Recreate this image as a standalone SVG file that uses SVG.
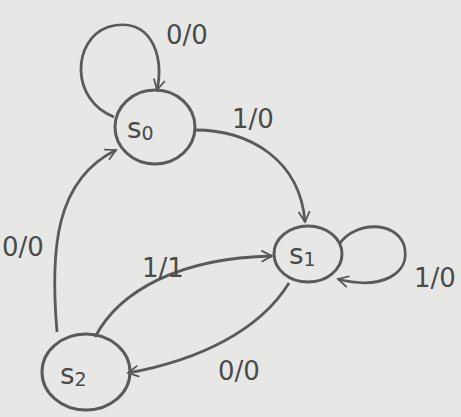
<svg xmlns="http://www.w3.org/2000/svg" width="461" height="417" viewBox="0 0 461 417">
<defs>
<marker id="ah" viewBox="0 0 20 20" refX="17" refY="10" markerWidth="14" markerHeight="14" markerUnits="userSpaceOnUse" orient="auto">
<path d="M2,2 L17,10 L2,18" fill="none" stroke="#555" stroke-width="2.5"/>
</marker>
</defs>
<style>
.st{fill:none;stroke:#5a5a5a;stroke-width:3}
.ed{fill:none;stroke:#5a5a5a;stroke-width:2.8}
.lb{font-family:"DejaVu Sans",sans-serif;font-size:26px;fill:#4a4a4a}
.nm{font-family:"DejaVu Sans",sans-serif;font-size:28px;fill:#4a4a4a}
.sb{font-size:19px}
</style>
<rect width="461" height="417" fill="#e7e7e5"/>
<g id="connectors">
<path class="ed" d="M114,117 C70,100 72,40 108,27 C150,15 165,55 157,90" marker-end="url(#ah)"/>
<path class="ed" d="M195,130 C250,130 300,160 305,222" marker-end="url(#ah)"/>
<path class="ed" d="M340,243 C355,222 395,220 404,245 C412,275 380,290 338,279" marker-end="url(#ah)"/>
<path class="ed" d="M57,332 C50,250 55,180 116,150" marker-end="url(#ah)"/>
<path class="ed" d="M95,337 C120,290 180,258 272,256" marker-end="url(#ah)"/>
<path class="ed" d="M289,283 C260,330 200,360 128,373" marker-end="url(#ah)"/>
</g>
<g id="S0"><ellipse class="st" cx="155" cy="127" rx="40" ry="37"/><text class="nm" x="127" y="138">s<tspan class="sb" dy="2">0</tspan></text></g>
<g id="S1"><ellipse class="st" cx="308" cy="254" rx="34" ry="28"/><text class="nm" x="289" y="264">s<tspan class="sb" dy="2">1</tspan></text></g>
<g id="S2"><ellipse class="st" cx="86" cy="372" rx="44" ry="38"/><text class="nm" x="60" y="384">s<tspan class="sb" dy="2">2</tspan></text></g>
<g id="labels">
<text class="lb" x="166" y="44">0/0</text>
<text class="lb" x="232" y="128">1/0</text>
<text class="lb" x="414" y="287">1/0</text>
<text class="lb" x="2" y="256">0/0</text>
<text class="lb" x="142" y="277">1/1</text>
<text class="lb" x="218" y="380">0/0</text>
</g>
</svg>
